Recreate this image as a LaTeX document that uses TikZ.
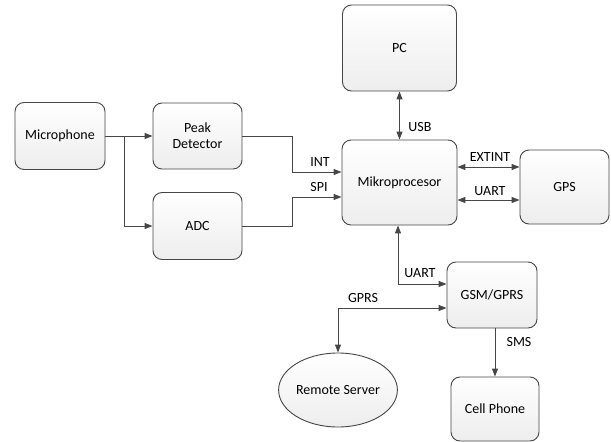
\documentclass[tikz,border=0pt]{standalone}
\usepackage{fontspec}
\setmainfont{Carlito}
\usetikzlibrary{arrows.meta,shapes.geometric}
\definecolor{edge}{RGB}{70,70,70}
\tikzset{
  blk/.style={draw=edge, line width=0.9pt, rounded corners=9pt, top color=white, bottom color=gray!14, align=center, inner sep=0pt, font=\fontsize{14}{16}\selectfont},
  srv/.style={ellipse, draw=edge, line width=0.9pt, top color=white, bottom color=gray!14, inner sep=0pt, font=\fontsize{14}{16}\selectfont},
  conn/.style={draw=edge, line width=1pt, -{Triangle[length=8pt,width=6pt]}},
  conn2/.style={draw=edge, line width=1pt, {Triangle[length=8pt,width=6pt]}-{Triangle[length=8pt,width=6pt]}},
  lbl/.style={font=\fontsize{14}{16}\selectfont, inner sep=0pt}
}
\begin{document}
\begin{tikzpicture}[x=1pt,y=-1pt]
\useasboundingbox (0,0) rectangle (611,442);
\node[blk, minimum width=90pt, minimum height=67pt] (mic) at (60,136) {Microphone};
\node[blk, minimum width=89pt, minimum height=66pt] (peak) at (197.5,136) {Peak\\Detector};
\node[blk, minimum width=89pt, minimum height=67pt] (adc) at (197.5,226) {ADC};
\node[blk, minimum width=115pt, minimum height=85pt] (mik) at (399.5,182.5) {Mikroprocesor};
\node[blk, minimum width=114pt, minimum height=86pt] (pc) at (399.5,48) {PC};
\node[blk, minimum width=89pt, minimum height=74pt] (gps) at (564.5,187) {GPS};
\node[blk, minimum width=90pt, minimum height=66pt] (gsm) at (492,295) {GSM/GPRS};
\node[blk, minimum width=88pt, minimum height=64pt] (cell) at (495,409) {Cell Phone};
\node[srv, minimum width=114pt, minimum height=74pt] (server) at (338,390) {Remote Server};

\draw[conn] (mic.east) -- (peak.west);
\draw[conn] (mic.east) -- ++(19,0) |- (adc.west);
\draw[conn] (peak.east) -- ++(50,0) |- ([yshift=10.5pt]mik.west);
\draw[conn] (adc.east) -- ++(50,0) |- ([yshift=-14.5pt]mik.west);
\draw[conn2] (pc.south) -- (mik.north);
\draw[conn2] ([yshift=15.5pt]mik.east) -- ([yshift=15.5pt]mik.east -| gps.west);
\draw[conn2] ([yshift=-17.5pt]mik.east) -- ([yshift=-17.5pt]mik.east -| gps.west);
\draw[conn2] ([xshift=-1.5pt]mik.south) |- ([yshift=11pt]gsm.west);
\draw[conn2] ([yshift=-13pt]gsm.west) -| (server.north);
\draw[conn] (cell.north |- gsm.south) -- (cell.north);

\node[lbl] (tint) at (320,162) {INT};
\node[lbl] (tspi) at (319,187) {SPI};
\node[lbl] (tusb) at (420,127) {USB};
\node[lbl] (text) at (490,157) {EXTINT};
\node[lbl] (tuart1) at (490,191) {UART};
\node[lbl] (tuart2) at (420,273) {UART};
\node[lbl] (tgprs) at (363,298) {GPRS};
\node[lbl] (tsms) at (519,342) {SMS};
\end{tikzpicture}
\end{document}
